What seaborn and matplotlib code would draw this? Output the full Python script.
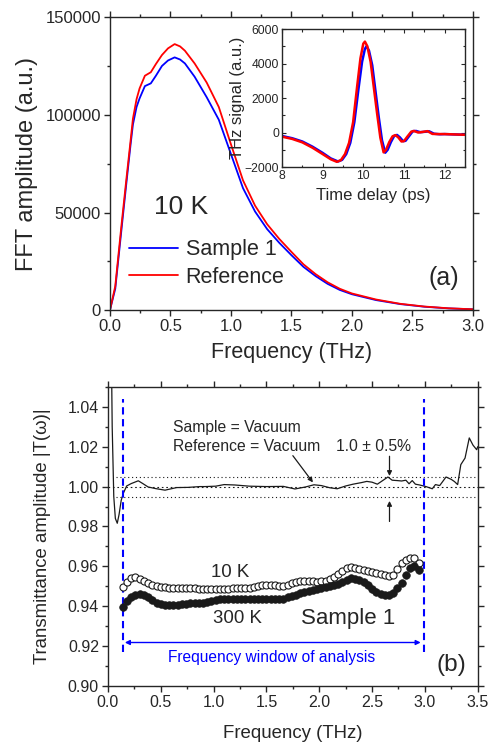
import numpy as np
import matplotlib
matplotlib.use("Agg")
import matplotlib.pyplot as plt
from matplotlib.ticker import MultipleLocator, FormatStrFormatter
from matplotlib.lines import Line2D
import seaborn as sns

# ---- panel (a): FFT amplitude ----
fft_freq = [0.00, 0.044, 0.094, 0.135, 0.171, 0.19, 0.22, 0.245, 0.289, 0.338, 0.38, 0.43, 0.48,
            0.535, 0.58, 0.62, 0.70, 0.80, 0.90, 1.00, 1.10, 1.20, 1.30, 1.40, 1.50, 1.60, 1.70,
            1.80, 1.90, 2.00, 2.20, 2.40, 2.60, 2.80, 3.00]
fft_reference = [0, 12300, 42700, 66600, 87000, 98000, 108000, 113500, 120000, 121800, 126000,
                 130600, 134000, 136200, 135000, 132800, 126300, 116500, 104000, 85000, 66500,
                 53500, 44000, 36500, 29900, 23500, 18500, 14300, 11000, 8600, 5500, 3300, 1900,
                 1000, 500]
fft_sample = [0, 11000, 40500, 64500, 85000, 95000, 104000, 108400, 114700, 116100, 120000,
              125000, 127800, 129400, 128300, 126300, 119500, 109000, 97500, 80000, 62500,
              50500, 41500, 34500, 28200, 22200, 17500, 13500, 10400, 8200, 5200, 3150, 1800,
              950, 480]

# inset: time-domain pulses
time_ref = [8.00, 8.25, 8.50, 8.75, 9.00, 9.20, 9.35, 9.45, 9.55, 9.65, 9.75, 9.85, 9.93, 10.00,
            10.04, 10.10, 10.18, 10.26, 10.34, 10.42, 10.50, 10.56, 10.64, 10.72, 10.79, 10.86,
            10.94, 11.00, 11.08, 11.18, 11.25, 11.35, 11.45, 11.58, 11.70, 11.85, 12.00, 12.25, 12.50]
signal_ref = [-240, -370, -570, -880, -1250, -1550, -1700, -1600, -1250, -600, 600, 2700, 4300,
              5150, 5270, 5000, 4100, 2600, 1100, -300, -1150, -1000, -550, -220, -150, -280,
              -520, -500, -250, 50, 90, 0, 30, 80, -80, -90, -90, -110, -130]
time_sam = [8.00, 8.25, 8.50, 8.75, 9.00, 9.20, 9.38, 9.48, 9.58, 9.68, 9.78, 9.88, 9.97, 10.04,
            10.08, 10.14, 10.22, 10.30, 10.38, 10.46, 10.54, 10.60, 10.68, 10.76, 10.83, 10.90,
            10.98, 11.04, 11.12, 11.22, 11.30, 11.40, 11.50, 11.62, 11.74, 11.88, 12.00, 12.25, 12.50]
signal_sam = [-200, -330, -520, -820, -1180, -1500, -1680, -1580, -1250, -600, 600, 2500, 4100,
              4850, 5000, 4750, 3900, 2400, 900, -450, -1170, -1000, -550, -200, -140, -280,
              -500, -480, -230, 80, 90, 20, 40, 70, -70, -100, -90, -110, -130]

# ---- panel (b): transmittance ----
vac_freq = [0.03, 0.04, 0.055, 0.07, 0.088, 0.105, 0.125, 0.145, 0.177, 0.22, 0.287, 0.33, 0.38,
            0.45, 0.54, 0.65, 0.76, 0.87, 0.92, 1.02, 1.10, 1.20, 1.34, 1.50, 1.66, 1.77, 1.87,
            1.95, 2.02, 2.10, 2.17, 2.25, 2.32, 2.40, 2.45, 2.50, 2.55, 2.60, 2.65, 2.69, 2.74,
            2.78, 2.82, 2.85, 2.88, 2.91, 2.95, 3.01, 3.07, 3.10, 3.14, 3.20, 3.25, 3.28, 3.31,
            3.34, 3.38, 3.42, 3.455, 3.49, 3.50]
vac_ratio = [1.08, 1.03, 0.995, 0.984, 0.9816, 0.986, 0.993, 0.9966, 1.0003, 1.0015, 1.0029,
             1.0015, 0.9998, 0.9990, 0.9982, 0.9995, 0.9996, 1.0000, 1.0000, 1.0002, 1.0010,
             1.0008, 1.0002, 1.0000, 1.0001, 0.9988, 0.9998, 1.0009, 1.0005, 0.9994, 0.9989,
             1.0003, 1.0012, 1.0020, 1.0026, 1.0022, 1.0012, 1.0030, 1.0048, 1.0032, 1.0030,
             1.0028, 1.0032, 1.0014, 1.0030, 1.0012, 1.0008, 1.0000, 0.9989, 1.0010, 1.0005,
             1.0048, 1.0036, 1.0025, 1.0010, 1.0110, 1.0143, 1.0244, 1.0208, 1.0185, 1.0200]

t_freq = np.round(np.arange(0.14, 2.95, 0.04), 2)
t_10k = [0.9495, 0.9522, 0.9540, 0.9545, 0.9537, 0.9525, 0.9515, 0.9507, 0.9502, 0.9498,
         0.9495, 0.9493, 0.9492, 0.9491, 0.9491, 0.9491, 0.9490, 0.9489, 0.9488, 0.9487,
         0.9486, 0.9486, 0.9487, 0.9487, 0.9488, 0.9488, 0.9489, 0.9490, 0.9490, 0.9491,
         0.9492, 0.9494, 0.9499, 0.9505, 0.9507, 0.9507, 0.9505, 0.9502, 0.9500, 0.9505,
         0.9515, 0.9521, 0.9525, 0.9527, 0.9526, 0.9524, 0.9523, 0.9525, 0.9528, 0.9534,
         0.9545, 0.9562, 0.9578, 0.9590, 0.9595, 0.9593, 0.9587, 0.9580, 0.9575, 0.9570,
         0.9565, 0.9560, 0.9555, 0.9552, 0.9557, 0.9585, 0.9615, 0.9632, 0.9640, 0.9640,
         0.9618]
t_300k = [0.9397, 0.9425, 0.9445, 0.9458, 0.9462, 0.9456, 0.9444, 0.9430, 0.9418, 0.9411,
          0.9407, 0.9405, 0.9406, 0.9408, 0.9411, 0.9413, 0.9414, 0.9414, 0.9414, 0.9416,
          0.9420, 0.9427, 0.9432, 0.9435, 0.9436, 0.9437, 0.9437, 0.9436, 0.9435, 0.9434,
          0.9434, 0.9435, 0.9437, 0.9438, 0.9438, 0.9437, 0.9435, 0.9435, 0.9438, 0.9444,
          0.9451, 0.9458, 0.9465, 0.9471, 0.9476, 0.9481, 0.9487, 0.9493, 0.9497, 0.9500,
          0.9504, 0.9512, 0.9523, 0.9533, 0.9540, 0.9538, 0.9530, 0.9519, 0.9505, 0.9488,
          0.9472, 0.9460, 0.9455, 0.9456, 0.9468, 0.9492, 0.9518, 0.9555, 0.9590, 0.9600,
          0.9582]

BLUE = "#0000ff"
RED = "#ff0000"

sns.set_theme(style="ticks")
plt.rcParams["font.family"] = ["Liberation Sans", "DejaVu Sans"]
plt.rcParams["axes.linewidth"] = 1.0

fig = plt.figure(figsize=(4.93, 7.44), dpi=100)


def place_labels(ax, xpos, ypos):
    # put axis-label centres at given axes-fraction positions
    ax.xaxis.set_label_coords(0.5, xpos)
    ax.yaxis.set_label_coords(ypos, 0.5)
    ax.xaxis.label.set_verticalalignment("center")
    ax.yaxis.label.set_verticalalignment("center")


# ---------------- panel (a) ----------------
ax1 = fig.add_axes([0.223, 0.583, 0.736, 0.394])
sns.lineplot(x=fft_freq, y=fft_sample, ax=ax1, color=BLUE, lw=1.3, sort=False)
sns.lineplot(x=fft_freq, y=fft_reference, ax=ax1, color=RED, lw=1.3, sort=False)
ax1.set_xlim(0, 3.0)
ax1.set_ylim(0, 150000)
ax1.xaxis.set_major_locator(MultipleLocator(0.5))
ax1.xaxis.set_minor_locator(MultipleLocator(0.25))
ax1.xaxis.set_major_formatter(FormatStrFormatter("%.1f"))
ax1.yaxis.set_major_locator(MultipleLocator(50000))
ax1.yaxis.set_minor_locator(MultipleLocator(25000))
ax1.tick_params(which="both", direction="out", top=True, right=True, labelsize=12,
                width=1.0, pad=2)
ax1.tick_params(which="major", length=4.5)
ax1.tick_params(which="minor", length=2.5)
ax1.set_xlabel("Frequency (THz)", fontsize=15.5)
ax1.set_ylabel("FFT amplitude (a.u.)", fontsize=17)
place_labels(ax1, -0.143, -0.229)
ax1.text(0.364, 52700, "10 K", fontsize=19, va="center", ha="left")
ax1.text(2.63, 16400, "(a)", fontsize=18, va="center", ha="left")
handles = [Line2D([], [], color=BLUE, lw=1.3), Line2D([], [], color=RED, lw=1.3)]
ax1.legend(handles, ["Sample 1", "Reference"], loc="lower left",
           bbox_to_anchor=(0.01, 0.025), frameon=False, fontsize=15.5,
           handlelength=2.3, handletextpad=0.35, labelspacing=0.3, borderpad=0.2)

# inset
axi = fig.add_axes([0.572, 0.7755, 0.371, 0.1855])
sns.lineplot(x=time_sam, y=signal_sam, ax=axi, color=BLUE, lw=1.8, sort=False)
sns.lineplot(x=time_ref, y=signal_ref, ax=axi, color=RED, lw=1.8, sort=False)
axi.set_xlim(8, 12.5)
axi.set_ylim(-2000, 6000)
axi.xaxis.set_major_locator(MultipleLocator(1))
axi.xaxis.set_minor_locator(MultipleLocator(0.5))
axi.yaxis.set_major_locator(MultipleLocator(2000))
axi.yaxis.set_minor_locator(MultipleLocator(1000))
axi.tick_params(which="both", direction="in", top=True, right=True, labelsize=8.7,
                width=0.8, pad=2)
axi.tick_params(which="major", length=3)
axi.tick_params(which="minor", length=1.8)
axi.set_xlabel("Time delay (ps)", fontsize=12)
axi.set_ylabel("THz signal (a.u.)", fontsize=12)
place_labels(axi, -0.203, -0.246)

# ---------------- panel (b) ----------------
ax2 = fig.add_axes([0.219, 0.078, 0.750, 0.402])
ax2.axhline(1.000, color="k", lw=0.8, ls=(0, (1.5, 2.5)))
ax2.hlines([1.005, 0.995], 0.08, 3.5, color="k", lw=0.8, ls=(0, (1, 2.5)))
sns.lineplot(x=vac_freq, y=vac_ratio, ax=ax2, color="k", lw=0.9, sort=False)
sns.scatterplot(x=t_freq, y=t_10k, ax=ax2, marker="o", s=26, facecolor="white",
                edgecolor="k", linewidth=0.8, zorder=4)
sns.scatterplot(x=t_freq, y=t_300k, ax=ax2, marker="o", s=30, color="k",
                edgecolor="k", linewidth=0.5, zorder=4)
ax2.plot([0.142, 0.142], [0.917, 1.044], color=BLUE, lw=1.5, dashes=[3.5, 2.2])
ax2.plot([2.996, 2.996], [0.917, 1.044], color=BLUE, lw=1.5, dashes=[3.5, 2.2])
ax2.annotate("", xy=(0.16, 0.9218), xytext=(2.96, 0.9218),
             arrowprops=dict(arrowstyle="<|-|>", color=BLUE, lw=1.0,
                             mutation_scale=7, shrinkA=0, shrinkB=0))
ax2.text(1.55, 0.9143, "Frequency window of analysis", color=BLUE, fontsize=11.2,
         ha="center", va="center")
ax2.text(0.615, 1.0298, "Sample = Vacuum", fontsize=11.3, ha="left", va="center")
ax2.text(0.615, 1.0202, "Reference = Vacuum", fontsize=11.3, ha="left", va="center")
ax2.text(2.154, 1.0202, "1.0 \u00b1 0.5%", fontsize=11.3, ha="left", va="center")
ax2.annotate("", xy=(1.94, 1.0021), xytext=(1.75, 1.0155),
             arrowprops=dict(arrowstyle="-|>", color="k", lw=0.9, mutation_scale=7,
                             shrinkA=0, shrinkB=0))
ax2.annotate("", xy=(2.665, 1.0053), xytext=(2.665, 1.0152),
             arrowprops=dict(arrowstyle="-|>", color="k", lw=0.9, mutation_scale=7,
                             shrinkA=0, shrinkB=0))
ax2.annotate("", xy=(2.665, 0.9928), xytext=(2.665, 0.9825),
             arrowprops=dict(arrowstyle="-|>", color="k", lw=0.9, mutation_scale=7,
                             shrinkA=0, shrinkB=0))
ax2.text(0.978, 0.9568, "10 K", fontsize=13.4, ha="left", va="center")
ax2.text(0.993, 0.9339, "300 K", fontsize=13.4, ha="left", va="center")
ax2.text(1.83, 0.9339, "Sample 1", fontsize=16, ha="left", va="center")
ax2.text(3.106, 0.9107, "(b)", fontsize=17.6, ha="left", va="center")
ax2.set_xlim(0, 3.5)
ax2.set_ylim(0.90, 1.05)
ax2.xaxis.set_major_locator(MultipleLocator(0.5))
ax2.xaxis.set_minor_locator(MultipleLocator(0.25))
ax2.yaxis.set_major_locator(MultipleLocator(0.02))
ax2.yaxis.set_minor_locator(MultipleLocator(0.01))
ax2.yaxis.set_major_formatter(FormatStrFormatter("%.2f"))
ax2.xaxis.set_major_formatter(FormatStrFormatter("%.1f"))
ax2.tick_params(which="both", direction="out", top=True, right=True, labelsize=11.5,
                width=1.0, pad=2)
ax2.tick_params(which="major", length=4.5)
ax2.tick_params(which="minor", length=2.5)
ax2.set_xlabel("Frequency (THz)", fontsize=13.4)
ax2.set_ylabel("Transmittance amplitude |T(\u03c9)|", fontsize=13.4)
place_labels(ax2, -0.16, -0.178)

fig.savefig("out.png", dpi=100)
